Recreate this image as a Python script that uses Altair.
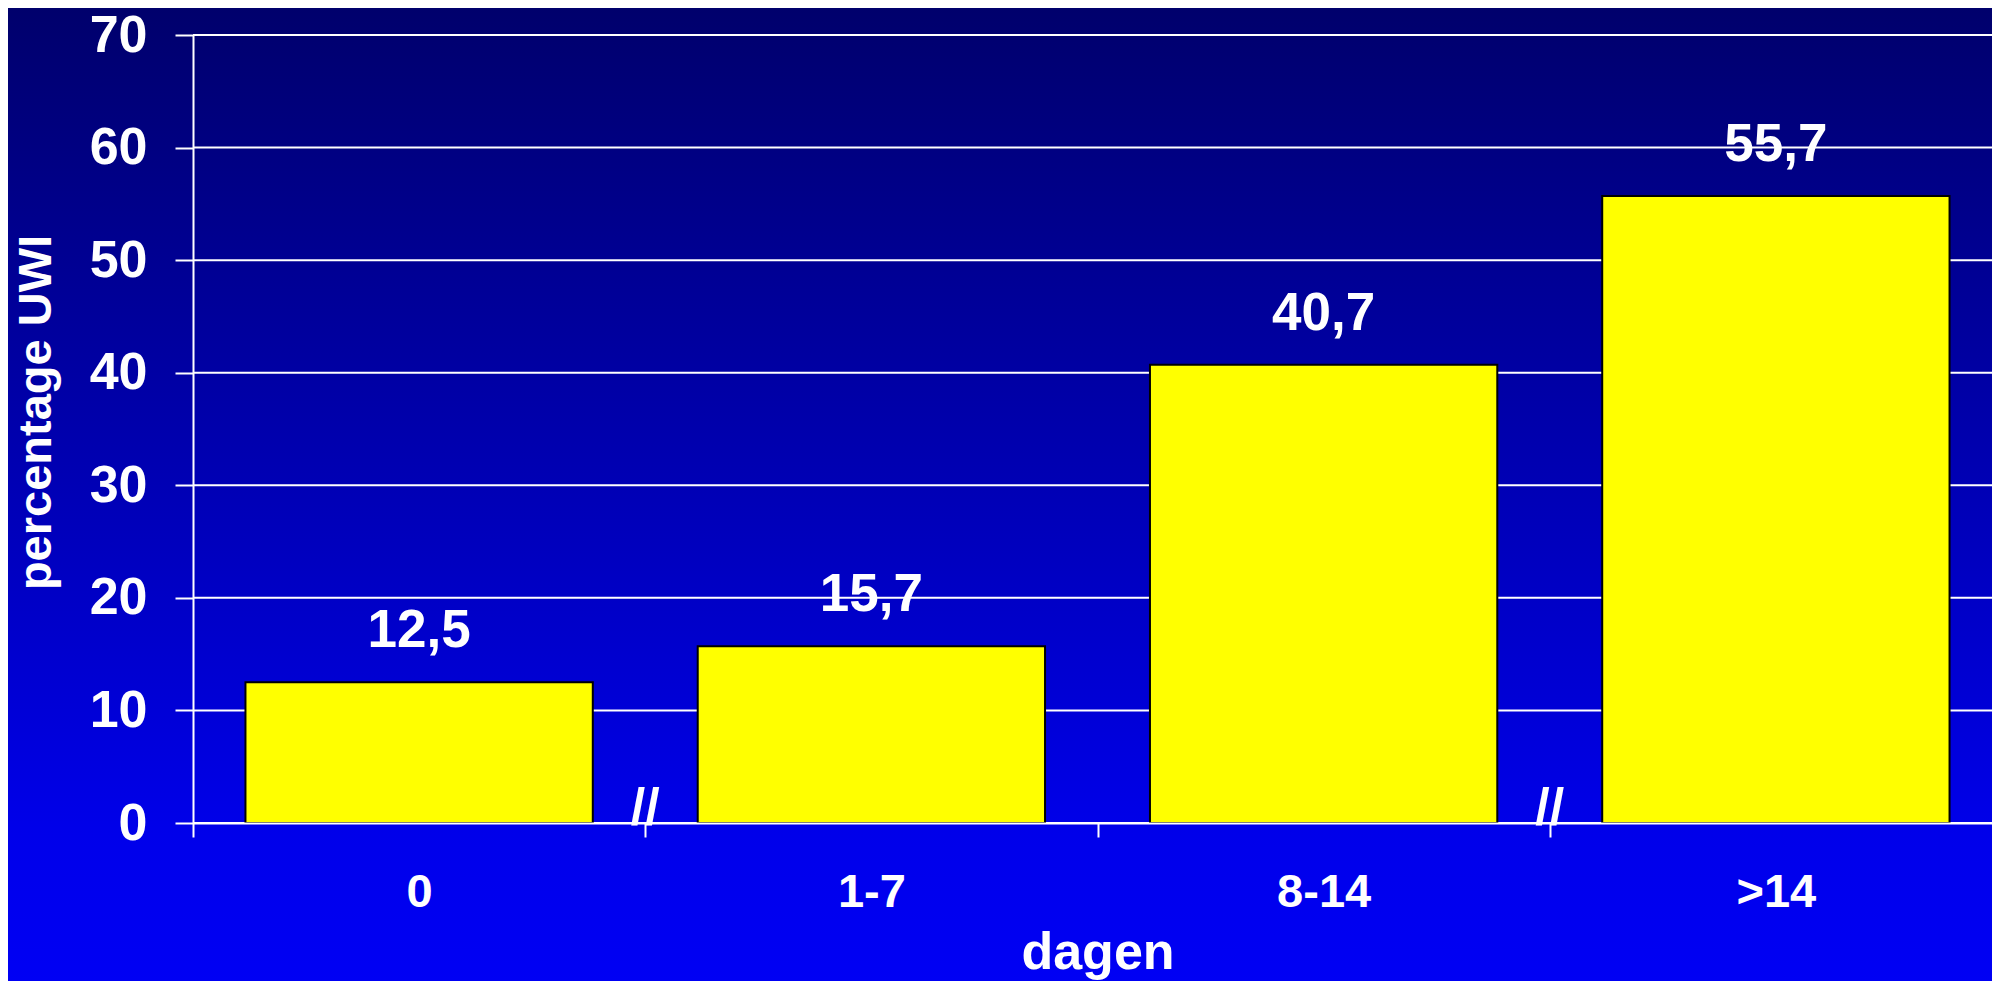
import altair as alt
import pandas as pd

# ---- data ----
categories = ["0", "1-7", "8-14", ">14"]
values = [12.5, 15.7, 40.7, 55.7]
labels = ["12,5", "15,7", "40,7", "55,7"]
y_ticks = [0, 10, 20, 30, 40, 50, 60, 70]
break_after = ["1-7", ">14"]   # axis-break marks drawn at the left edge of these categories

W, H = 1799, 788
PAD = {"left": 185, "top": 27, "right": 0, "bottom": 158}
FONT = "Liberation Sans"

bars_df = pd.DataFrame({"cat": categories, "value": values, "label": labels})
grid_df = pd.DataFrame({"value": y_ticks})
brk_df = pd.DataFrame({"cat": break_after, "value": [0] * len(break_after)})

x_scale = alt.Scale(domain=categories, range=[0, 1809], paddingInner=0, paddingOuter=0)
y_scale = alt.Scale(domain=[0, 70], nice=False)

x_axis = alt.Axis(
    title="dagen", labelAngle=0, labelFontSize=47, labelFontWeight="bold", labelColor="white",
    labelFont=FONT, labelPadding=32, tickBand="extent", tickSize=14, tickColor="white",
    tickWidth=2, domainColor="white", domainWidth=2, titleFont=FONT, titleFontSize=52,
    titleFontWeight="bold", titleColor="white", titleY=145, titleBaseline="alphabetic",
    grid=False, zindex=1,
)
y_axis = alt.Axis(
    title="percentage UWI", values=y_ticks, labelFontSize=52, labelFontWeight="bold",
    labelColor="white", labelFont=FONT, labelPadding=28, tickSize=18, tickColor="white",
    tickWidth=2, domainColor="white", domainWidth=2, titleFont=FONT, titleFontSize=47,
    titleFontWeight="bold", titleColor="white", titleX=-143, titleY=377,
    titleBaseline="alphabetic", grid=False, zindex=1,
)

x_enc = alt.X("cat:N", sort=categories, scale=x_scale, axis=x_axis)
y_enc = alt.Y("value:Q", scale=y_scale, axis=y_axis)

gradient = alt.LinearGradient(
    gradient="linear", x1=0, y1=0, x2=0, y2=1,
    stops=[
        alt.GradientStop(offset=0, color="#00006c"),
        alt.GradientStop(offset=0.85, color="#0000ea"),
        alt.GradientStop(offset=1, color="#0000f4"),
    ],
)

bg = alt.Chart(alt.Data(values=[{"a": 1}])).mark_rect(color=gradient).encode(
    x=alt.value(-PAD["left"]), x2=alt.value(W),
    y=alt.value(-PAD["top"]), y2=alt.value(H + PAD["bottom"]),
)

grid = alt.Chart(grid_df).mark_rule(color="white", strokeWidth=2).encode(y=y_enc)

bars = alt.Chart(bars_df).mark_bar(
    color="#ffff00", stroke="black", strokeWidth=2, width=alt.RelativeBandSize(0.768)
).encode(x=x_enc, y=y_enc)

text = alt.Chart(bars_df).mark_text(
    color="white", fontSize=53, fontWeight="bold", font=FONT, baseline="alphabetic", dy=-35
).encode(x=x_enc, y=y_enc, text="label:N")

breaks = alt.Chart(brk_df).mark_text(
    text="//", color="white", fontSize=52, fontWeight="bold", font=FONT,
    baseline="alphabetic", align="center", dy=2,
).encode(x=alt.X("cat:N", sort=categories, scale=x_scale, axis=x_axis, bandPosition=0), y=y_enc)

chart = alt.layer(bg, grid, bars, text, breaks).properties(
    width=W, height=H, autosize=alt.AutoSizeParams(type="none"), padding=PAD,
).configure_view(stroke=None)

chart.save("out.html", embed_options={"renderer": "svg", "actions": False})
